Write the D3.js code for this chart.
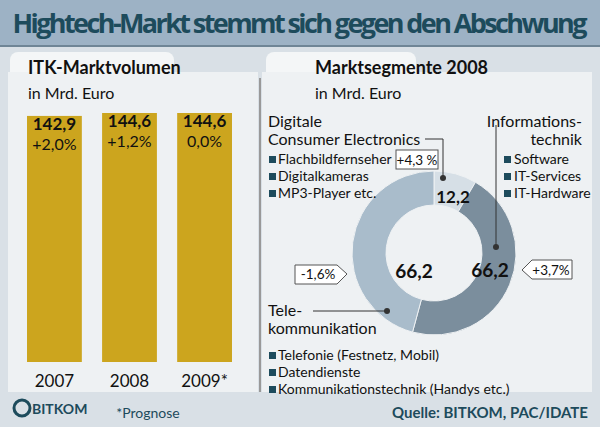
<!DOCTYPE html><html><head><meta charset="utf-8"><script src="https://cdn.jsdelivr.net/npm/d3@7"></script>
<style>body{margin:0}svg{font-family:"Lato",sans-serif}</style></head><body><svg id="c" width="600" height="427"></svg>
<script>
const years=["2007","2008","2009*"];
const volumes=[142.9,144.6,144.6];
const growth=["+2,0%","+1,2%","0,0%"];
const segments=["Digitale Consumer Electronics","Informationstechnik","Telekommunikation"];
const segValues=[12.2,66.2,66.2];
const segGrowth=["+4,3 %","+3,7%","-1,6%"];
const svg=d3.select("#c");
svg.append("rect").attr("width",600).attr("height",427).attr("fill","#d9e0e6");
svg.append("rect").attr("width",600).attr("height",46).attr("fill","#9db2c5");
svg.append("line").attr("x1",0).attr("x2",600).attr("y1",46).attr("y2",46).attr("stroke","#6f8596").attr("stroke-width",2);
svg.append("text").attr("x",300).attr("y",33).attr("text-anchor","middle").attr("font-size",27).attr("font-weight","bold").attr("fill","#1d4b5c").attr("font-family","Open Sans").attr("textLength",575).text("Hightech-Markt stemmt sich gegen den Abschwung");
svg.append("rect").attr("x",10).attr("y",52).attr("width",164).attr("height",30).attr("rx",8).attr("fill","#f4f6f7");
svg.append("rect").attr("x",8).attr("y",72).attr("width",250).attr("height",320).attr("fill","#eef1f3");
svg.append("rect").attr("x",266).attr("y",52).attr("width",150).attr("height",30).attr("rx",8).attr("fill","#f4f6f7");
svg.append("rect").attr("x",262).attr("y",72).attr("width",330).attr("height",320).attr("fill","#eef1f3");
svg.append("line").attr("x1",260).attr("x2",260).attr("y1",78).attr("y2",392).attr("stroke","#999").attr("stroke-width",2);
const t=(x,y,s,sz,w,fill,anchor)=>svg.append("text").attr("x",x).attr("y",y).attr("font-size",sz).attr("font-weight",w||"normal").attr("fill",fill||"#111").attr("text-anchor",anchor||"start").text(s);
t(28,74,"ITK-Marktvolumen",18,"bold");
t(28,99,"in Mrd. Euro",16);
t(315,74,"Marktsegmente 2008",18,"bold");
t(315,99,"in Mrd. Euro",16);
const x=d3.scaleBand().domain(years).range([12,247]).paddingInner(0.27).paddingOuter(0.2);
const y=d3.scaleLinear().domain([0,144.6]).range([362,113]);
years.forEach((yr,i)=>{
 svg.append("rect").attr("x",x(yr)).attr("y",y(volumes[i])).attr("width",x.bandwidth()).attr("height",362-y(volumes[i])).attr("fill","#cca51e");
 const cx=x(yr)+x.bandwidth()/2;
 t(cx,y(volumes[i])+14,String(volumes[i]).replace(".",","),17,"bold","#111","middle");
 t(cx,y(volumes[i])+34,growth[i],16,"normal","#111","middle");
 t(cx,387,yr,17,"normal","#111","middle");
});
t(148,418,"*Prognose",14,"normal","#1d4b5c","middle");
svg.append("circle").attr("cx",22).attr("cy",408).attr("r",8).attr("fill","none").attr("stroke","#1d4b5c").attr("stroke-width",3);
t(32,414,"BITKOM",14,"bold","#1d4b5c");
t(588,418,"Quelle: BITKOM, PAC/IDATE",15,"bold","#1d4b5c","end");
const cx=434,cy=253;
const pie=d3.pie().sort(null)(segValues);
const arc=d3.arc().innerRadius(48).outerRadius(82);
const cols=["#d6dfe6","#7b8e9d","#a9bccb"];
const g=svg.append("g").attr("transform",`translate(${cx},${cy})`);
g.selectAll("path").data(pie).join("path").attr("d",arc).attr("fill",(d,i)=>cols[i]).attr("stroke","#eef1f3").attr("stroke-width",1);
t(cx+19,203,"12,2",17,"bold","#111","middle");
t(cx+56,277,"66,2",19,"bold","#111","middle");
t(cx-20,278,"66,2",19,"bold","#111","middle");
t(268,127,"Digitale",16); t(268,145,"Consumer Electronics",16);
svg.append("path").attr("d","M425,139 L443,139 L443,178").attr("fill","none").attr("stroke","#333");
svg.append("circle").attr("cx",443).attr("cy",178).attr("r",3).attr("fill","#333");
svg.append("rect").attr("x",396).attr("y",150).attr("width",42).attr("height",19).attr("fill","#fff").attr("stroke","#555");
t(417,165,segGrowth[0],13.5,"normal","#111","middle");
["Flachbildfernseher","Digitalkameras","MP3-Player etc."].forEach((s,i)=>{svg.append("rect").attr("x",269).attr("y",156+i*17).attr("width",7).attr("height",7).attr("fill","#1d4b5c");t(278,164+i*17,s,14);});
t(582,127,"Informations-",16,"normal","#111","end"); t(582,145,"technik",16,"normal","#111","end");
svg.append("line").attr("x1",496).attr("x2",496).attr("y1",125).attr("y2",247).attr("stroke","#333");
svg.append("circle").attr("cx",496).attr("cy",247).attr("r",3).attr("fill","#333");
["Software","IT-Services","IT-Hardware"].forEach((s,i)=>{svg.append("rect").attr("x",504).attr("y",156+i*17).attr("width",7).attr("height",7).attr("fill","#1d4b5c");t(514,164+i*17,s,14);});
svg.append("path").attr("d","M522,270 L532,260 L572,260 L572,279 L532,279 Z").attr("fill","#fff").attr("stroke","#555");
t(551,275,segGrowth[1],13.5,"normal","#111","middle");
svg.append("path").attr("d","M295,265 L337,265 L347,274 L337,284 L295,284 Z").attr("fill","#fff").attr("stroke","#555");
t(318,279,segGrowth[2],13.5,"normal","#111","middle");
t(268,316,"Tele-",16); t(268,334,"kommunikation",16);
svg.append("line").attr("x1",313).attr("x2",387).attr("y1",311).attr("y2",311).attr("stroke","#333");
svg.append("circle").attr("cx",387).attr("cy",311).attr("r",3).attr("fill","#333");
["Telefonie (Festnetz, Mobil)","Datendienste","Kommunikationstechnik (Handys etc.)"].forEach((s,i)=>{svg.append("rect").attr("x",269).attr("y",352+i*17).attr("width",7).attr("height",7).attr("fill","#1d4b5c");t(278,360+i*17,s,14);});
</script></body></html>
